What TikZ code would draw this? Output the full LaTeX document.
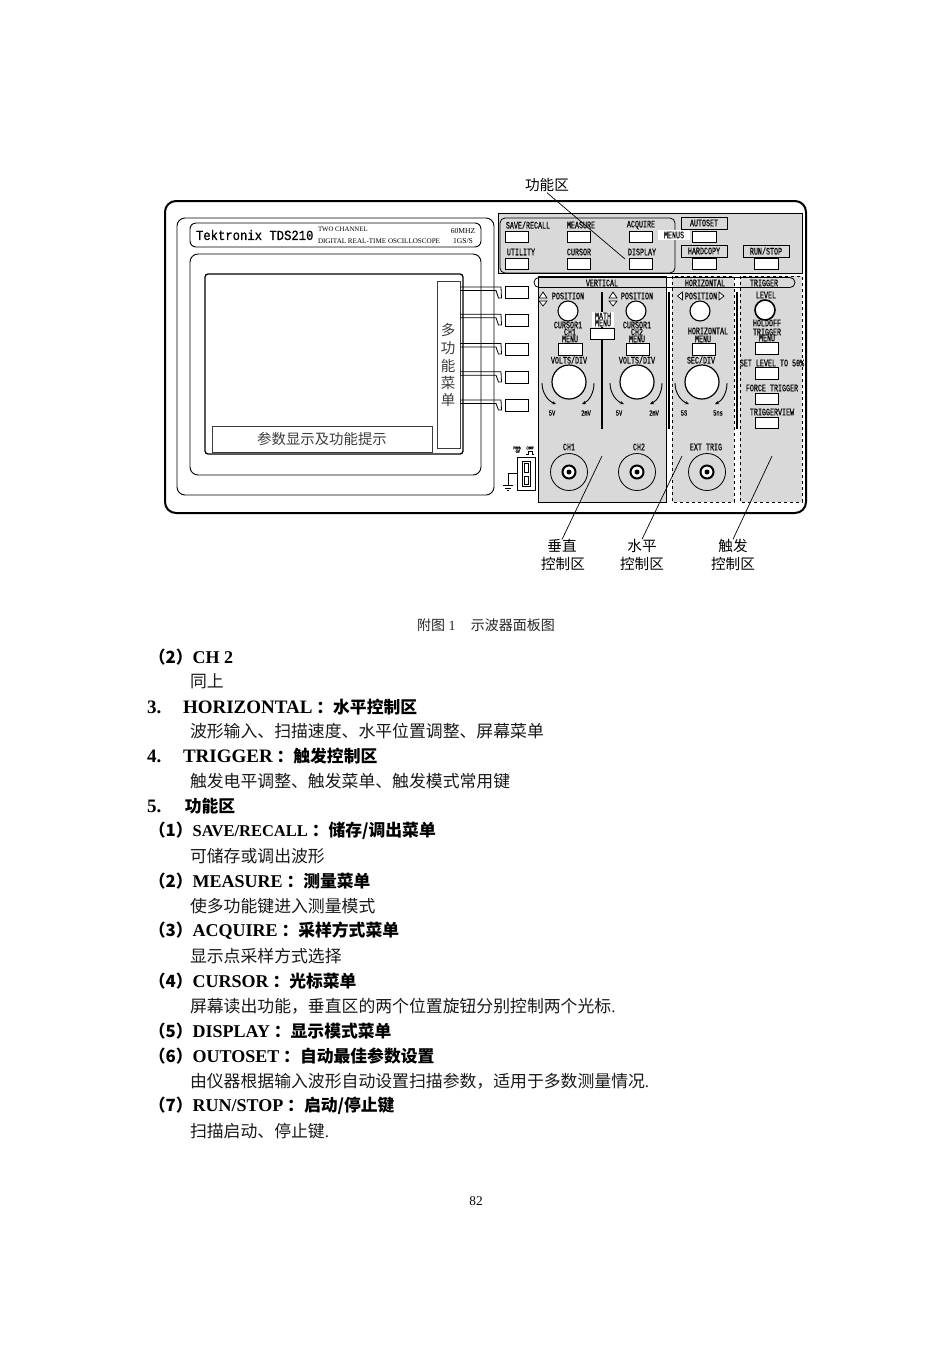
\documentclass[tikz,border=0pt]{standalone}
\usepackage{fontspec}
\usetikzlibrary{arrows.meta}
\setmainfont{Liberation Serif}
\newfontfamily\cjk{Noto Sans CJK SC}
\newfontfamily\labf[FakeStretch=0.67,FakeBold=0.25]{Liberation Mono}
\newfontfamily\tekf[FakeBold=0.8,FakeStretch=0.88]{Liberation Mono}
\definecolor{panelgray}{HTML}{D9D9D9}
\definecolor{softink}{HTML}{3C3C3C}
\newcommand{\px}[1]{\fontsize{#1pt}{#1pt}\selectfont}
\newcommand{\cn}[1]{{\cjk #1}}
\newcommand{\cb}[1]{{\cjk\bfseries\px{16.8} #1}}
\tikzset{
  x=1pt,y=-1pt,
  every node/.style={inner sep=0pt,outer sep=0pt},
  lab/.style={font=\labf\px{10},anchor=center},
  tiny lab/.style={font=\labf\px{8},anchor=center},
  btn/.style={draw=black,line width=1pt,fill=white},
  callout/.style={font=\cjk\px{14.6},anchor=center},
  leader/.style={draw=black,line width=0.7pt},
  bodyline/.style={font=\px{16.85},anchor=west,text=black!90},
  headline/.style={font=\bfseries\px{19},anchor=west},
  itemhead/.style={font=\bfseries\px{18},anchor=west},
  smallhead/.style={font=\bfseries\px{16.5},anchor=west},
  shell/.style={draw=black,line width=0.9pt,rounded corners=8pt},
  knob/.style={draw=black,line width=1.1pt,fill=white},
  dial/.style={draw=black,line width=0.9pt,-{Stealth[length=4pt,width=3.5pt]}},
  divider/.style={draw=black,line width=1.5pt},
  tri/.style={draw=black,line width=0.7pt,fill=white},
}
\begin{document}
\begin{tikzpicture}
\useasboundingbox (0,0) rectangle (952,1345);
\fill[white] (0,0) rectangle (952,1345);

% cabinet
\draw[line width=2pt,rounded corners=11pt] (165,201) rectangle (806,513);
\draw[shell] (177,218) rectangle (494,495);
\draw[shell,rounded corners=6pt] (190,223) rectangle (481,247);
\node[font=\tekf\px{13.9},anchor=west] (brand) at (196,235) {Tektronix TDS210};
\node[font=\px{6.8},anchor=west] (two) at (318,229.5) {TWO CHANNEL};
\node[font=\px{7.1},anchor=west] (dig) at (318,241) {DIGITAL REAL-TIME OSCILLOSCOPE};
\node[font=\px{7.6}] (mhz) at (463,231) {60MHZ};
\node[font=\px{7.6}] (gss) at (463,241) {1GS/S};
\draw[shell] (190,254) rectangle (481,475);
\draw[line width=1.3pt,rounded corners=3pt] (205,274) rectangle (463,454);
\draw[draw=softink,line width=1pt] (212,426) rectangle (432,452);
\node[font=\cjk\px{14.4},text=softink] (param) at (322,439) {参数显示及功能提示};
\draw[draw=softink,line width=1pt] (437,281) rectangle (460,448);
\node[font=\cjk\px{14.5},text=softink] (m1) at (448,330) {多};
\node[font=\cjk\px{14.5},text=softink] (m2) at (448,348) {功};
\node[font=\cjk\px{14.5},text=softink] (m3) at (448,366) {能};
\node[font=\cjk\px{14.5},text=softink] (m4) at (448,383) {菜};
\node[font=\cjk\px{14.5},text=softink] (m5) at (448,400) {单};

% soft-key links and keys
\foreach \y/\k in {287/0,314/1,343/2,371/3,399/4}{
  \draw[line width=0.8pt] (460,\y+\k*0.25) -- (501,\y+\k*0.25) -- (501.5,\y+11);
  \draw[line width=0.8pt] (460,\y+3.5+\k*0.25) -- (496,\y+3.5+\k*0.25) -- (498.5,\y+11) -- (501.5,\y+11);
}
\foreach \y in {286,314,343,371,399}{
  \draw[btn] (505,\y) rectangle (528,\y+12);
}

% function area
\fill[panelgray] (498,213) rectangle (802,273);
\draw[line width=0.8pt] (498,213) rectangle (802,273);
\draw[line width=0.8pt,rounded corners=5pt] (500,218) rectangle (675,273);
\fill[white] (658,230) rectangle (690,240);
\node[lab] (lsave) at (528,225) {SAVE/RECALL};
\node[lab] (lmeas) at (581,225) {MEASURE};
\node[lab] (lacq) at (641,225) {ACQUIRE};
\node[lab] (lutil) at (521,252) {UTILITY};
\node[lab] (lcur) at (579,252) {CURSOR};
\node[lab] (ldisp) at (642,252) {DISPLAY};
\node[lab] (lmenus) at (674,235) {MENUS};
\foreach \x in {505,567,629}{
  \draw[btn] (\x,231) rectangle (\x+23.5,242);
  \draw[btn] (\x,258) rectangle (\x+23.5,269);
}
\draw[line width=0.8pt] (681,217) rectangle (727,229);
\draw[line width=0.8pt] (681,245) rectangle (727,257);
\draw[line width=0.8pt] (743,245) rectangle (789,257);
\node[lab] (lauto) at (704,223) {AUTOSET};
\node[lab] (lhard) at (704,251) {HARDCOPY};
\node[lab] (lrun) at (766,251) {RUN/STOP};
\draw[btn] (692,231) rectangle (716,242);
\draw[btn] (692,258) rectangle (716,269);
\draw[btn] (754,258) rectangle (778,269);

% control sections
\draw[fill=panelgray,line width=0.8pt] (538,276) rectangle (666,502);
\draw[fill=panelgray,line width=0.7pt,dashed] (672,276) rectangle (734,502);
\draw[fill=panelgray,line width=0.7pt,dashed] (740,276) rectangle (802,502);
\draw[line width=0.8pt,rounded corners=5pt] (534,277.5) rectangle (795,287.5);
\node[lab] (lvert) at (602,283) {VERTICAL};
\node[lab] (lhor) at (705,283) {HORIZONTAL};
\node[lab] (ltrig) at (764,283) {TRIGGER};

\draw[divider] (602,292) -- (602,429);
\draw[divider] (669,292) -- (669,429);
\draw[divider] (737,292) -- (737,429);

% position row
\node[lab] (pos1) at (568,296) {POSITION};
\node[lab] (pos2) at (637,296) {POSITION};
\node[lab] (pos3) at (701,296) {POSITION};
\node[lab] (llev) at (766,295) {LEVEL};
\foreach \x in {543,613}{
  \draw[tri] (\x-4,298) -- (\x+4,298) -- (\x,292) -- cycle;
  \draw[tri] (\x-4,301) -- (\x+4,301) -- (\x,306) -- cycle;
}
\draw[tri] (682.5,292) -- (682.5,300) -- (677.5,296) -- cycle;
\draw[tri] (719,292) -- (719,300) -- (724,296) -- cycle;
\draw[knob] (568,311) circle[radius=10pt];
\draw[knob] (636,311) circle[radius=10pt];
\draw[knob] (700,311) circle[radius=10pt];
\draw[knob,line width=1.6pt] (765,310) circle[radius=10pt];

% menu labels
\node[lab] (cu1) at (568,325) {CURSOR1};
\node[lab] (ch1) at (570,332) {CH1};
\node[lab] (me1) at (570,339) {MENU};
\node[lab] (cu2) at (637,325) {CURSOR1};
\node[lab] (ch2) at (637,332) {CH2};
\node[lab] (me2) at (637,339) {MENU};
\fill[white] (592,312) rectangle (614,327);
\node[lab] (mat) at (603,316) {MATH};
\node[lab] (mam) at (603,323) {MENU};
\node[lab] (hm1) at (708,331) {HORIZONTAL};
\node[lab] (hm2) at (703,339) {MENU};
\node[lab] (hold) at (767,323) {HOLDOFF};
\node[lab] (trg) at (767,332) {TRIGGER};
\node[lab] (trm) at (767,338) {MENU};
\draw[btn] (558,343) rectangle (582,355);
\draw[btn] (590,328) rectangle (614,339);
\draw[btn] (626,343) rectangle (649,355);
\draw[btn] (692,343) rectangle (715,355);
\draw[btn] (755,342) rectangle (778,354);
\node[lab] (lset) at (772,363) {SET LEVEL TO 50\%};
\node[lab] (lfor) at (772,388) {FORCE TRIGGER};
\node[lab] (lview) at (772,412) {TRIGGERVIEW};
\draw[btn] (755,367) rectangle (778,379);
\draw[btn] (755,393) rectangle (778,404);
\draw[btn] (755,417) rectangle (778,428);

% big dials
\node[lab] (v1) at (569,360) {VOLTS/DIV};
\node[lab] (v2) at (637,360) {VOLTS/DIV};
\node[lab] (v3) at (701,360) {SEC/DIV};
\foreach \x in {569,637,702}{
  \draw[knob,line width=1.2pt] (\x,382) circle[radius=17pt];
  \draw[dial] (\x-27,383) .. controls (\x-27,393) and (\x-21,401) .. (\x-13,404);
  \draw[dial] (\x+25,383) .. controls (\x+25,393) and (\x+20,401) .. (\x+13,404);
}
\node[tiny lab] (a1) at (552,413) {5V};
\node[tiny lab] (a2) at (586,413) {2mV};
\node[tiny lab] (a3) at (619,413) {5V};
\node[tiny lab] (a4) at (654,413) {2mV};
\node[tiny lab] (a5) at (684,413) {5S};
\node[tiny lab] (a6) at (718,413) {5ns};

% connectors
\node[lab] (lc1) at (569,447) {CH1};
\node[lab] (lc2) at (639,447) {CH2};
\node[lab] (lc3) at (706,447) {EXT TRIG};
\foreach \x in {569,637,707}{
  \draw[line width=0.8pt,fill=panelgray] (\x,472) circle[radius=18.5pt];
  \draw[line width=2pt,fill=white] (\x,472) circle[radius=6.5pt];
  \fill (\x,472) circle[radius=2.5pt];
}

% probe compensation
\node[font=\labf\px{4.5}] (pr1) at (517,448) {PROB};
\node[font=\labf\px{4.5}] (pr2) at (530,448) {COMP};
\node[font=\labf\px{4.5}] (pr3) at (517,451.5) {-5V};
\draw[line width=0.6pt] (526,454) -- (528,454) -- (528,451) -- (532,451) -- (532,454) -- (534,454);
\draw[line width=0.8pt,fill=white] (517,457) rectangle (535,490);
\draw[line width=0.8pt] (522,461) rectangle (530,486);
\draw[line width=0.7pt,fill=white] (524,463) rectangle (528,472);
\draw[line width=0.7pt,fill=white] (524,476) rectangle (528,484);
\draw[line width=0.6pt] (517,473) -- (508,473) -- (508,485);
\draw[line width=0.7pt] (503,485) -- (513,485);
\draw[line width=0.7pt] (505,488) -- (511,488);
\draw[line width=0.7pt] (507,490.5) -- (509,490.5);

% callouts
\node[callout] (cfunc) at (547,185) {功能区};
\node[callout] (cv1) at (562,546) {垂直};
\node[callout] (cv2) at (563,564) {控制区};
\node[callout] (ch3) at (642,546) {水平};
\node[callout] (ch4) at (642,564) {控制区};
\node[callout] (ct1) at (733,546) {触发};
\node[callout] (ct2) at (733,564) {控制区};
\coordinate (pfunc) at (625,259);
\coordinate (pvert) at (602,456);
\coordinate (phor) at (682,456);
\coordinate (ptrig) at (772,456);
\draw[leader] (cfunc.south) ++(0,1) -- (pfunc);
\draw[leader] (pvert) -- (cv1.north);
\draw[leader] (phor) -- (ch3.north);
\draw[leader] (ptrig) -- (ct1.north);

% page text
\node[font=\px{14},anchor=center,text=black!85] (cap) at (486,625) {\cn{附图} 1\hspace{1.1em}\cn{示波器面板图}};
\node[itemhead] (t1) at (145,657) {\cb{（2）}CH 2};
\node[bodyline] (t2) at (190,681) {\cn{同上}};
\node[headline] (t3) at (147,707) {3.};
\node[headline] (t3b) at (183,707) {HORIZONTAL\cb{：水平控制区}};
\node[bodyline] (t4) at (190,731) {\cn{波形输入、扫描速度、水平位置调整、屏幕菜单}};
\node[headline] (t5) at (147,756) {4.};
\node[headline] (t5b) at (183,756) {TRIGGER\cb{：触发控制区}};
\node[bodyline] (t6) at (190,781) {\cn{触发电平调整、触发菜单、触发模式常用键}};
\node[headline] (t7) at (147,806) {5.};
\node[headline] (t7b) at (181,806) {\cb{功能区}};
\node[smallhead] (t8) at (145,831) {\cb{（1）}SAVE/RECALL\cb{：储存/调出菜单}};
\node[bodyline] (t9) at (190,856) {\cn{可储存或调出波形}};
\node[itemhead] (t10) at (145,881) {\cb{（2）}MEASURE\cb{：测量菜单}};
\node[bodyline] (t11) at (190,906) {\cn{使多功能键进入测量模式}};
\node[itemhead] (t12) at (145,931) {\cb{（3）}ACQUIRE\cb{：采样方式菜单}};
\node[bodyline] (t13) at (190,956) {\cn{显示点采样方式选择}};
\node[itemhead] (t14) at (145,981) {\cb{（4）}CURSOR\cb{：光标菜单}};
\node[bodyline] (t15) at (190,1006) {\cn{屏幕读出功能，垂直区的两个位置旋钮分别控制两个光标}.};
\node[itemhead] (t16) at (145,1031) {\cb{（5）}DISPLAY\cb{：显示模式菜单}};
\node[itemhead] (t17) at (145,1056) {\cb{（6）}OUTOSET\cb{：自动最佳参数设置}};
\node[bodyline] (t18) at (190,1081) {\cn{由仪器根据输入波形自动设置扫描参数，适用于多数测量情况}.};
\node[itemhead] (t19) at (145,1106) {\cb{（7）}RUN/STOP\cb{：启动/停止键}};
\node[bodyline] (t20) at (190,1131) {\cn{扫描启动、停止键}.};
\node[font=\px{13.3}] (pg) at (476,1201) {82};
\end{tikzpicture}
\end{document}
